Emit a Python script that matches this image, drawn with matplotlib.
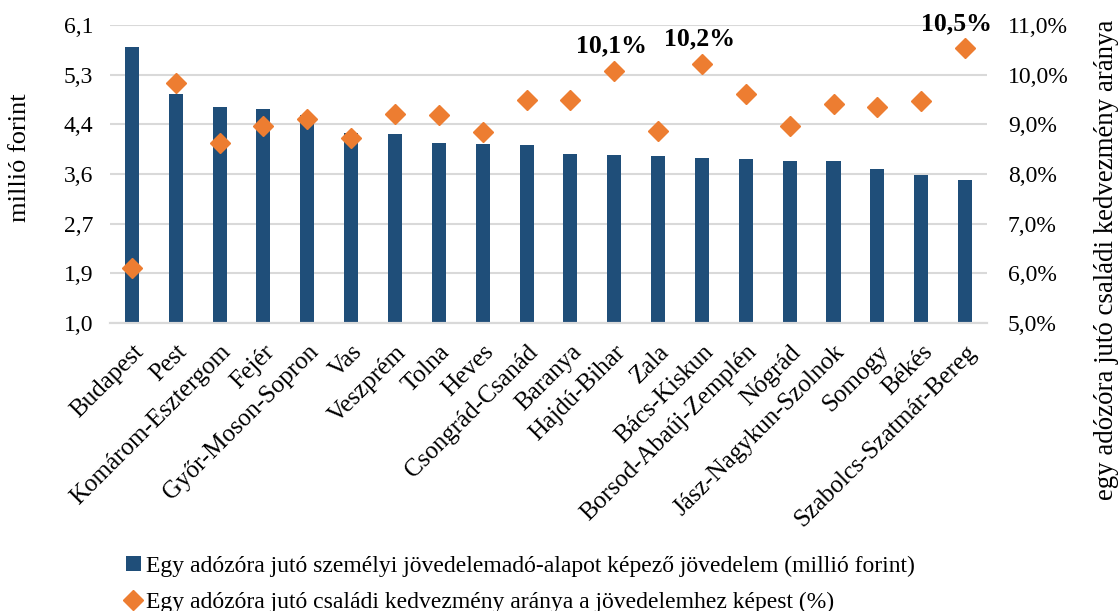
import matplotlib
matplotlib.use("Agg")
import matplotlib.pyplot as plt
from matplotlib.ticker import FixedLocator, FixedFormatter, FuncFormatter
from matplotlib.transforms import ScaledTranslation

plt.rcParams['font.family'] = ['Liberation Serif', 'DejaVu Serif']

counties = ['Budapest', 'Pest', 'Komárom-Esztergom', 'Fejér', 'Győr-Moson-Sopron',
            'Vas', 'Veszprém', 'Tolna', 'Heves', 'Csongrád-Csanád', 'Baranya',
            'Hajdú-Bihar', 'Zala', 'Bács-Kiskun', 'Borsod-Abaúj-Zemplén', 'Nógrád',
            'Jász-Nagykun-Szolnok', 'Somogy', 'Békés', 'Szabolcs-Szatmár-Bereg']
income = [5.72, 4.92, 4.70, 4.66, 4.56, 4.25, 4.23, 4.08, 4.07, 4.04,
          3.89, 3.88, 3.85, 3.82, 3.81, 3.78, 3.77, 3.63, 3.54, 3.45]
family_share = [6.10, 9.83, 8.62, 8.96, 9.11, 8.73, 9.21, 9.19, 8.84, 9.48,
                9.48, 10.08, 8.87, 10.22, 9.61, 8.96, 9.40, 9.34, 9.46, 10.53]
labelled = {'Hajdú-Bihar': '10,1%', 'Bács-Kiskun': '10,2%', 'Szabolcs-Szatmár-Bereg': '10,5%'}

left_ticks = [1.0, 1.85, 2.7, 3.55, 4.4, 5.25, 6.1]
left_labels = ['1,0', '1,9', '2,7', '3,6', '4,4', '5,3', '6,1']
right_ticks = [5, 6, 7, 8, 9, 10, 11]

bar_color = '#1F4E79'
dot_color = '#ED7D31'
grid_color = '#D9D9D9'

fig = plt.figure(figsize=(11.18, 6.11), dpi=100)
ax = fig.add_axes([0.0984, 0.4714, 0.7844, 0.4877])
ax2 = ax.twinx()

x = list(range(len(counties)))
bars = ax.bar(x, income, width=0.32, color=bar_color, zorder=2,
              label='Egy adózóra jutó személyi jövedelemadó-alapot képező jövedelem (millió forint)')
ax.set_ylim(1.0, 6.1)
ax.set_xlim(-0.5, len(counties) - 0.5)
ax.yaxis.set_major_locator(FixedLocator(left_ticks))
ax.yaxis.set_major_formatter(FixedFormatter(left_labels))
ax.grid(axis='y', color=grid_color, lw=1.5, zorder=0)
ax.set_axisbelow(True)
ax.set_xticks(x)
ax.set_xticklabels(counties, rotation=45, ha='right', va='top',
                   rotation_mode='anchor', fontsize=18)
shift = ScaledTranslation(4 / 100, 0, fig.dpi_scale_trans)
for lab in ax.get_xticklabels():
    lab.set_transform(lab.get_transform() + shift)
ax.tick_params(axis='both', length=0)
ax.tick_params(axis='x', pad=13)
ax.tick_params(axis='y', labelsize=17, pad=12)
ax.set_ylabel('millió forint', fontsize=19)
ax.yaxis.set_label_coords(-0.103, 0.554)
ax.yaxis.label.set_va('center')
ax.yaxis.label.set_ha('center')

pts, = ax2.plot(x, family_share, linestyle='none', marker='D', markersize=10,
                color=dot_color, zorder=3,
                label='Egy adózóra jutó családi kedvezmény aránya a jövedelemhez képest (%)')
ax2.set_ylim(5, 11)
ax2.yaxis.set_major_locator(FixedLocator(right_ticks))
ax2.yaxis.set_major_formatter(FuncFormatter(lambda v, p: f'{v:.1f}%'.replace('.', ',')))
ax2.tick_params(axis='y', length=0, labelsize=17, pad=15)
ax2.set_ylabel('egy adózóra jutó családi kedvezmény aránya', fontsize=19.4)
ax2.yaxis.set_label_coords(1.136, 0.211)
ax2.yaxis.label.set_va('center')
ax2.yaxis.label.set_ha('center')

for i, name in enumerate(counties):
    if name in labelled:
        dx = -6 if i == len(counties) - 1 else -2
        ax2.annotate(labelled[name], (i, family_share[i]), xytext=(dx, 18),
                     textcoords='offset points', ha='center', va='center',
                     fontsize=18.5, fontweight='bold')

for a in (ax, ax2):
    for s in ('top', 'left', 'right'):
        a.spines[s].set_visible(False)
    a.spines['bottom'].set_color(grid_color)
    a.spines['bottom'].set_linewidth(1.5)

fig.legend(handles=[bars, pts], loc='upper left', bbox_to_anchor=(0.113, 0.091),
           frameon=False, fontsize=17, handlelength=0.6, handleheight=0.6,
           handletextpad=0.25, labelspacing=0.65, borderpad=0, borderaxespad=0)

fig.savefig('out.png', dpi=100)
